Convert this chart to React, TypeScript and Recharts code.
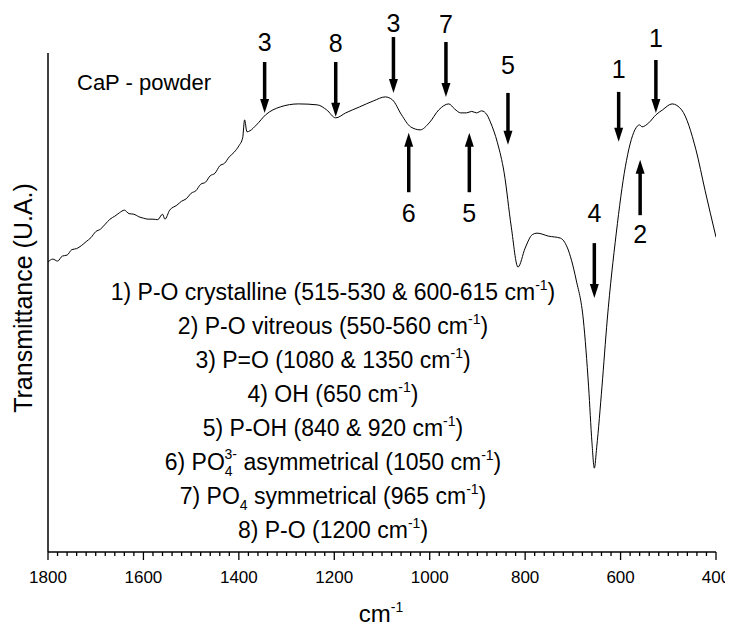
import { LineChart, Line, XAxis, YAxis, ReferenceLine, Customized } from "recharts"

// FTIR spectrum (wavenumber in cm-1, transmittance in arbitrary units)
const wavenumbers = [
  1800, 1790, 1780, 1770, 1760, 1750, 1740, 1730, 1720, 1710, 1700, 1690, 1680, 1670, 1660, 1650,
  1640, 1630, 1620, 1610, 1600, 1590, 1580, 1570, 1560, 1555, 1545, 1530, 1520, 1510, 1500, 1490,
  1480, 1470, 1460, 1450, 1440, 1430, 1420, 1410, 1400, 1392, 1388, 1383, 1377, 1363, 1344, 1313,
  1275, 1235, 1216, 1197, 1176, 1147, 1118, 1093, 1078, 1059, 1040, 1020, 1001, 981, 960, 948,
  935, 923, 912, 902, 891, 880, 873, 858, 844, 829, 815, 800, 785, 775, 751, 726,
  712, 693, 678, 667, 660, 655, 650, 639, 628, 609, 590, 570, 560, 555, 541, 526,
  512, 492, 472, 442, 423, 400,
]
const transmittance = [
  58.1, 58.7, 58.3, 59.3, 59.5, 60.6, 60.8, 61.4, 62.2, 63.0, 64.2, 64.7, 65.7, 66.7, 67.3, 68.0,
  68.5, 67.8, 67.7, 67.2, 66.9, 66.7, 66.7, 66.6, 67.7, 66.7, 68.5, 69.5, 70.3, 70.8, 71.9, 72.4,
  73.7, 74.1, 75.4, 75.9, 77.4, 77.9, 79.2, 80.1, 81.4, 83.0, 86.6, 84.2, 84.4, 85.6, 87.6, 89.2,
  89.8, 89.6, 88.6, 87.0, 88.0, 89.2, 90.4, 91.2, 90.6, 87.6, 85.2, 84.6, 86.0, 88.6, 89.8, 88.8,
  88.0, 88.0, 88.3, 88.0, 88.4, 87.6, 86.2, 82.0, 76.0, 65.1, 57.1, 60.9, 63.6, 63.9, 63.3, 62.9,
  61.1, 54.5, 46.5, 33.1, 22.0, 16.8, 21.0, 33.1, 46.5, 63.9, 77.2, 84.6, 85.6, 85.2, 86.0, 87.6,
  88.6, 89.8, 88.6, 80.6, 72.5, 63.1,
]

const majorTicks = [1800, 1600, 1400, 1200, 1000, 800, 600, 400]

// band markers: position, arrow span and label height (transmittance units), label, pointing up?
const arrowWn = [1346, 1197, 1076, 966, 836, 604, 526, 655, 1044, 917, 559]
const arrowTop = [98.2, 98.2, 103.2, 102.2, 92.0, 92.2, 98.6, 61.9, 84.0, 84.0, 78.6]
const arrowBottom = [88.0, 87.2, 92.0, 91.2, 81.6, 82.2, 88.0, 50.9, 72.1, 72.1, 67.5]
const labelAt = [100.4, 100.2, 104.2, 104.0, 95.8, 95.0, 101.2, 66.1, 66.1, 66.1, 61.9]
const arrowLabels = ["3", "8", "3", "7", "5", "1", "1", "4", "6", "5", "2"]
const arrowUp = [false, false, false, false, false, false, false, false, true, true, true]

// band assignments, split into [text, kind] pieces
type Piece = [string, "n" | "sup" | "sub" | "stack"]
const assignments: Piece[][] = [
  [["1) P-O crystalline (515-530 & 600-615 cm", "n"], ["-1", "sup"], [")", "n"]],
  [["2) P-O vitreous (550-560 cm", "n"], ["-1", "sup"], [")", "n"]],
  [["3) P=O (1080 & 1350 cm", "n"], ["-1", "sup"], [")", "n"]],
  [["4) OH (650 cm", "n"], ["-1", "sup"], [")", "n"]],
  [["5) P-OH (840 & 920 cm", "n"], ["-1", "sup"], [")", "n"]],
  [["6) PO", "n"], ["4", "sub"], ["3-", "stack"], [" asymmetrical (1050 cm", "n"], ["-1", "sup"], [")", "n"]],
  [["7) PO", "n"], ["4", "sub"], [" symmetrical (965 cm", "n"], ["-1", "sup"], [")", "n"]],
  [["8) P-O (1200 cm", "n"], ["-1", "sup"], [")", "n"]],
]

const data = wavenumbers.map((wn, i) => ({ wn, t: transmittance[i] }))
const allTicks: number[] = []
for (let v = 1800; v >= 400; v -= 20) allTicks.push(v)

const FONT = "'Liberation Sans', Arial, sans-serif"

function AxisTick(props: any) {
  const { x, y, payload } = props
  const major = majorTicks.includes(payload.value)
  return (
    <g>
      <line x1={x} y1={y} x2={x} y2={y + (major ? 8 : 4)} stroke="#000" strokeWidth={1.3} />
      {major && (
        <text x={x} y={y + 31} textAnchor="middle" fontSize={17} fontFamily={FONT} fill="#000">
          {payload.value}
        </text>
      )}
    </g>
  )
}

function Arrow(props: any) {
  const { x1, y1, y2, label, up, labelValue, top, bottom } = props
  const head = 14
  // place the number with the same linear scale as the segment endpoints
  const pxPerUnit = (y2 - y1) / (top - bottom)
  const ty = y1 - (labelValue - top) * pxPerUnit
  return (
    <g>
      {up ? (
        <>
          <line x1={x1} y1={y1 + head - 2} x2={x1} y2={y2} stroke="#000" strokeWidth={3.5} />
          <polygon points={`${x1 - 4.5},${y1 + head} ${x1 + 4.5},${y1 + head} ${x1},${y1}`} fill="#000" />
        </>
      ) : (
        <>
          <line x1={x1} y1={y1} x2={x1} y2={y2 - head + 2} stroke="#000" strokeWidth={3.5} />
          <polygon points={`${x1 - 4.5},${y2 - head} ${x1 + 4.5},${y2 - head} ${x1},${y2}`} fill="#000" />
        </>
      )}
      <text x={x1} y={ty} textAnchor="middle" fontSize={25} fontFamily={FONT} fill="#000">
        {label}
      </text>
    </g>
  )
}

function Annotations() {
  return (
    <g fontFamily={FONT} fill="#000">
      <text x={69} y={82} fontSize={22}>CaP - powder</text>
      {assignments.map((line, i) => (
        <text key={i} x={325} y={292 + i * 34} textAnchor="middle" fontSize={23}>
          {line.map(([s, kind], j) => {
            if (kind === "sup") return <tspan key={j} dy={-10} fontSize={14}>{s}</tspan>
            if (kind === "sub") return <tspan key={j} dy={6} fontSize={14}>{s}</tspan>
            if (kind === "stack") return <tspan key={j} dx={-8} dy={-17} fontSize={14}>{s}</tspan>
            const prev = j > 0 ? line[j - 1][1] : "n"
            const dy = prev === "sup" ? 10 : prev === "sub" ? -6 : prev === "stack" ? 11 : 0
            return <tspan key={j} dy={dy} fontSize={23}>{s}</tspan>
          })}
        </text>
      ))}
      <text x={24} y={290} textAnchor="middle" fontSize={25} transform="rotate(-90 24 290)">
        Transmittance (U.A.)
      </text>
      <text x={373} y={614} textAnchor="middle" fontSize={24}>
        cm<tspan dy={-10} fontSize={14}>-1</tspan>
      </text>
    </g>
  )
}

export default function App() {
  return (
    <LineChart width={725} height={619} data={data} margin={{ top: 45, right: 17, bottom: 0, left: 40 }}>
      <XAxis
        dataKey="wn"
        type="number"
        domain={[400, 1800]}
        reversed
        ticks={allTicks}
        interval={0}
        tickSize={0}
        tickMargin={0}
        tickLine={false}
        tick={<AxisTick />}
        axisLine={{ stroke: "#000", strokeWidth: 1.5 }}
        height={75}
        allowDataOverflow
      />
      <YAxis hide type="number" domain={[0, 100]} allowDataOverflow />
      <ReferenceLine x={1800} stroke="#000" strokeWidth={1.5} />
      {arrowWn.map((wn, i) => (
        <ReferenceLine
          key={i}
          ifOverflow="visible"
          segment={[{ x: wn, y: arrowTop[i] }, { x: wn, y: arrowBottom[i] }]}
          shape={(p: any) => (
            <Arrow
              {...p}
              label={arrowLabels[i]}
              up={arrowUp[i]}
              labelValue={labelAt[i]}
              top={arrowTop[i]}
              bottom={arrowBottom[i]}
            />
          )}
        />
      ))}
      <Line dataKey="t" type="monotone" stroke="#000" strokeWidth={1} dot={false} isAnimationActive={false} />
      <Customized component={<Annotations />} />
    </LineChart>
  )
}
